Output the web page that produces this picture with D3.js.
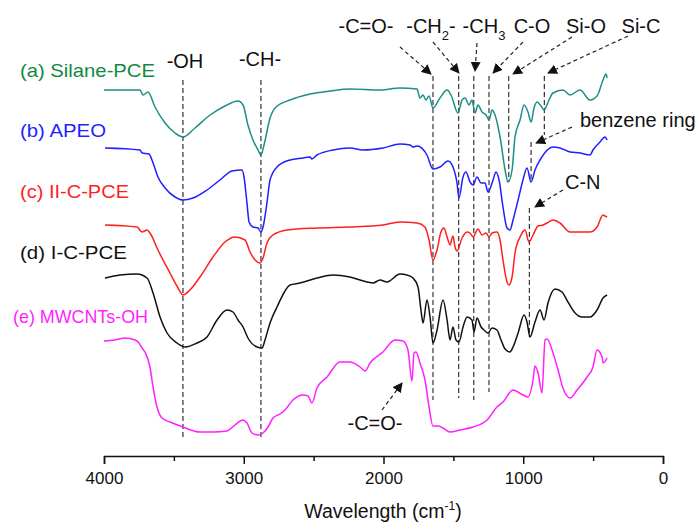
<!DOCTYPE html>
<html>
<head>
<meta charset="utf-8">
<script src="https://cdn.jsdelivr.net/npm/d3@7"></script>
<style>
  body { margin: 0; background: #fff; }
  svg { font-family: "Liberation Sans", Arial, sans-serif; }
</style>
</head>
<body>
<svg width="699" height="523"></svg>
<script>
// FTIR spectra, [wavenumber cm-1, stacked transmittance (a.u.)]
var silanePCE = [[4000,365],[3742,365],[3721,360],[3685,363],[3635,348],[3563,332],[3492,322],[3435,318],[3349,327],[3241,340],[3134,349],[3041,354],[3005,350],[2970,330],[2934,315],[2898,305],[2877,300],[2855,310],[2812,337],[2769,348],[2669,355],[2526,361],[2383,364],[2240,366],[2025,365],[1882,367],[1760,366],[1739,357],[1717,360],[1696,355],[1674,359],[1646,347],[1596,357],[1545,365],[1517,360],[1467,342],[1438,355],[1417,357],[1388,350],[1367,355],[1345,342],[1324,350],[1295,343],[1266,340],[1245,335],[1223,345],[1202,340],[1166,318],[1130,285],[1109,273],[1080,285],[1059,318],[1023,335],[994,350],[966,343],[944,333],[923,347],[901,353],[873,349],[851,345],[816,355],[787,362],[716,365],[665,360],[594,365],[522,355],[472,359],[429,375],[408,381],[400,377]];

var apeo = [[3993,307],[3742,305],[3728,302],[3678,301],[3649,292],[3614,278],[3563,267],[3492,258],[3435,255],[3363,257],[3263,265],[3170,275],[3084,284],[3012,285],[2998,278],[2977,252],[2962,233],[2934,228],[2898,227],[2877,223],[2862,228],[2834,252],[2812,275],[2762,288],[2669,295],[2576,297],[2526,298],[2512,296],[2476,300],[2361,305],[2240,307],[2147,305],[2004,307],[1882,311],[1810,310],[1789,308],[1760,309],[1689,300],[1646,286],[1596,288],[1538,294],[1503,288],[1474,272],[1460,257],[1431,278],[1410,283],[1381,273],[1359,270],[1331,278],[1302,272],[1274,272],[1252,263],[1216,275],[1195,283],[1173,275],[1145,248],[1116,227],[1095,225],[1073,235],[1037,255],[1002,275],[973,287],[944,273],[916,285],[880,295],[787,308],[737,307],[665,303],[594,302],[522,300],[501,305],[451,313],[415,318],[400,315]];

var iiCPCE = [[3993,230],[3764,228],[3728,223],[3692,225],[3671,222],[3614,205],[3528,182],[3470,167],[3435,160],[3385,165],[3313,178],[3220,198],[3134,213],[3063,218],[2991,215],[2955,203],[2919,195],[2884,192],[2862,197],[2834,212],[2791,220],[2690,225],[2476,227],[2240,228],[2004,230],[1882,233],[1760,232],[1703,228],[1674,215],[1646,195],[1617,205],[1589,223],[1567,227],[1545,218],[1524,210],[1503,219],[1488,208],[1474,204],[1438,217],[1402,223],[1381,222],[1359,218],[1324,226],[1295,220],[1266,222],[1245,218],[1223,222],[1188,223],[1166,215],[1145,195],[1116,173],[1102,170],[1080,178],[1059,202],[1023,218],[987,225],[959,213],[930,220],[894,229],[858,230],[830,232],[787,235],[737,232],[665,223],[594,223],[522,223],[472,228],[429,240],[415,239],[400,238]];

var iCPCE = [[3993,177],[3885,180],[3764,181],[3692,177],[3649,162],[3599,138],[3549,122],[3478,112],[3420,108],[3334,112],[3263,118],[3191,135],[3120,145],[3077,143],[3041,135],[3005,128],[2970,117],[2905,108],[2869,107],[2848,115],[2812,132],[2762,148],[2669,170],[2597,172],[2476,177],[2361,180],[2240,178],[2118,173],[2075,172],[2025,175],[1975,173],[1882,181],[1832,180],[1789,177],[1753,168],[1732,145],[1717,132],[1689,155],[1667,138],[1646,112],[1617,125],[1574,155],[1545,135],[1524,115],[1503,128],[1481,115],[1460,113],[1431,128],[1402,138],[1367,135],[1352,123],[1331,137],[1302,128],[1281,125],[1252,122],[1223,127],[1188,125],[1159,115],[1130,106],[1095,103],[1073,108],[1037,122],[994,140],[973,133],[952,118],[916,133],[880,145],[851,135],[823,152],[773,166],[723,163],[680,153],[629,142],[579,138],[522,138],[472,145],[429,157],[400,160]];

var mwcntsOH = [[4000,114],[3921,115],[3850,117],[3778,115],[3750,112],[3728,107],[3707,103],[3671,88],[3649,68],[3621,48],[3585,37],[3528,33],[3435,28],[3313,23],[3220,23],[3120,24],[3063,30],[3005,35],[2977,32],[2941,22],[2898,20],[2862,22],[2826,28],[2791,37],[2741,41],[2705,45],[2648,55],[2576,60],[2540,59],[2512,52],[2476,67],[2404,78],[2311,93],[2240,93],[2168,88],[2132,84],[2096,92],[2004,103],[1918,115],[1860,114],[1825,105],[1796,74],[1782,102],[1767,103],[1739,92],[1703,75],[1674,48],[1646,29],[1610,29],[1574,27],[1524,23],[1452,25],[1359,28],[1259,35],[1188,48],[1145,53],[1073,65],[1002,60],[966,58],[930,75],[916,89],[894,82],[866,62],[844,115],[830,116],[787,102],[751,85],[716,67],[665,57],[615,65],[543,78],[501,88],[472,105],[436,98],[429,92],[400,97]];

var seriesNames = ["(a) Silane-PCE", "(b) APEO", "(c) II-C-PCE", "(d) I-C-PCE", "(e) MWCNTs-OH"];
var seriesColors = ["#1b8f86", "#1f1fff", "#ff1f1f", "#111111", "#ff1fff"];
var labelColors = ["#12893f", "#1f1fff", "#ff1f1f", "#111111", "#ff1fff"];

var majorTicks = [4000, 3000, 2000, 1000, 0];
var minorTicks = [3500, 2500, 1500, 500];

// band markers: wavenumber, top and bottom of the dashed line (a.u.)
var bandWn = [3435, 2877, 1646, 1462, 1354, 1245, 1104, 849, 944, 956];
var bandTop = [375, 375, 379, 379, 379, 379, 379, 379, 313, 247];
var bandBottom = [15, 15, 55, 57, 55, 63, 273, 320, 273, 118];

// arrows: from [wn, a.u.] to [wn, a.u.]
var arrowFrom = [[1882,408],[1646,413],[1331,412],[1002,413],[651,418],[250,419],[651,328],[716,265],[2011,45]];
var arrowTo = [[1660,381],[1460,382],[1345,384],[1216,382],[1073,381],[823,382],[908,312],[916,248],[1867,72]];

function main() {
    var svg = d3.select("svg");

    var xScale = d3.scaleLinear().domain([4000, 0]).range([104, 663]),
        yScale = d3.scaleLinear().domain([0, 440]).range([455, 15]);

    var line = d3.line()
        .x(function(d) { return xScale(d[0]); })
        .y(function(d) { return yScale(d[1]); })
        .curve(d3.curveMonotoneX);

    // dashed band lines
    var g = svg.append("g");
    bandWn.forEach(function(w, i) {
        g.append("line")
         .attr("x1", xScale(w)).attr("x2", xScale(w))
         .attr("y1", yScale(bandTop[i])).attr("y2", yScale(bandBottom[i]))
         .attr("stroke", "#333")
         .attr("stroke-width", 1.2)
         .attr("stroke-dasharray", "5,3");
    });

    // spectra
    var allSeries = [silanePCE, apeo, iiCPCE, iCPCE, mwcntsOH];
    allSeries.forEach(function(s, i) {
        svg.append("path")
           .datum(s)
           .attr("fill", "none")
           .attr("stroke", seriesColors[i])
           .attr("stroke-width", 1.5)
           .attr("stroke-linejoin", "round")
           .attr("d", line);
    });

    // arrows
    svg.append("defs").append("marker")
       .attr("id", "head")
       .attr("viewBox", "0 0 10 10")
       .attr("refX", 9).attr("refY", 5)
       .attr("markerWidth", 10).attr("markerHeight", 10)
       .attr("markerUnits", "userSpaceOnUse")
       .attr("orient", "auto")
       .append("path")
       .attr("d", "M0,0 L10,5 L0,10 z")
       .attr("fill", "#111");

    arrowFrom.forEach(function(a, i) {
        svg.append("line")
           .attr("x1", xScale(a[0])).attr("y1", yScale(a[1]))
           .attr("x2", xScale(arrowTo[i][0])).attr("y2", yScale(arrowTo[i][1]))
           .attr("stroke", "#222")
           .attr("stroke-width", 1.2)
           .attr("stroke-dasharray", "4,3")
           .attr("marker-end", "url(#head)");
    });

    // series labels
    var labelY = [77, 137, 198, 259, 323];
    var labelX = [20, 20, 20, 20, 13];
    var labelW = [135, 86, 109, 107, 135];
    seriesNames.forEach(function(n, i) {
        svg.append("text")
           .attr("x", labelX[i]).attr("y", labelY[i])
           .attr("font-size", "19px")
           .attr("textLength", labelW[i])
           .attr("lengthAdjust", "spacingAndGlyphs")
           .attr("fill", labelColors[i])
           .text(n);
    });

    // band annotations
    function note(x, y, txt, anchor) {
        return svg.append("text")
           .attr("x", x).attr("y", y)
           .attr("font-size", "20px")
           .attr("text-anchor", anchor || "middle")
           .attr("fill", "#111")
           .text(txt);
    }
    note(185, 68, "-OH");
    note(260, 66, "-CH-");
    note(366, 33, "-C=O-");
    var ch2 = note(431, 33, "-CH");
    ch2.append("tspan").attr("font-size", "13px").attr("dy", 7).text("2");
    ch2.append("tspan").attr("dy", -7).text("-");
    var ch3 = note(484, 33, "-CH");
    ch3.append("tspan").attr("font-size", "13px").attr("dy", 7).text("3");
    note(532, 33, "C-O");
    note(586, 33, "Si-O");
    note(641, 33, "Si-C");
    note(580, 127, "benzene ring", "start");
    note(565, 189, "C-N", "start");
    note(375, 430, "-C=O-");

    // x axis
    var axisG = svg.append("g")
        .attr("transform", "translate(0,456)");
    axisG.call(d3.axisBottom(xScale).tickValues(majorTicks).tickSize(8).tickFormat(d3.format("d")))
    axisG.select(".domain").attr("stroke-width", 1.5).attr("stroke", "#111");
    axisG.selectAll(".tick line").attr("stroke-width", 1.5).attr("stroke", "#111");
    axisG.selectAll("text")
         .attr("y", 16)
         .attr("font-size", "17px")
         .attr("font-family", "Liberation Sans, Arial, sans-serif")
         .attr("fill", "#111");

    var minorG = svg.append("g")
        .attr("transform", "translate(0,456)");
    minorG.call(d3.axisBottom(xScale).tickValues(minorTicks).tickSize(5).tickFormat(""));
    minorG.select(".domain").remove();
    minorG.selectAll(".tick line").attr("stroke-width", 1.5).attr("stroke", "#111");

    var title = svg.append("text")
       .attr("x", 383).attr("y", 518)
       .attr("text-anchor", "middle")
       .attr("font-size", "19.5px")
       .attr("fill", "#111")
       .text("Wavelength (cm");
    title.append("tspan").attr("font-size", "12px").attr("dy", -8).text("-1");
    title.append("tspan").attr("dy", 8).text(")");
}
main();
</script>
</body>
</html>
